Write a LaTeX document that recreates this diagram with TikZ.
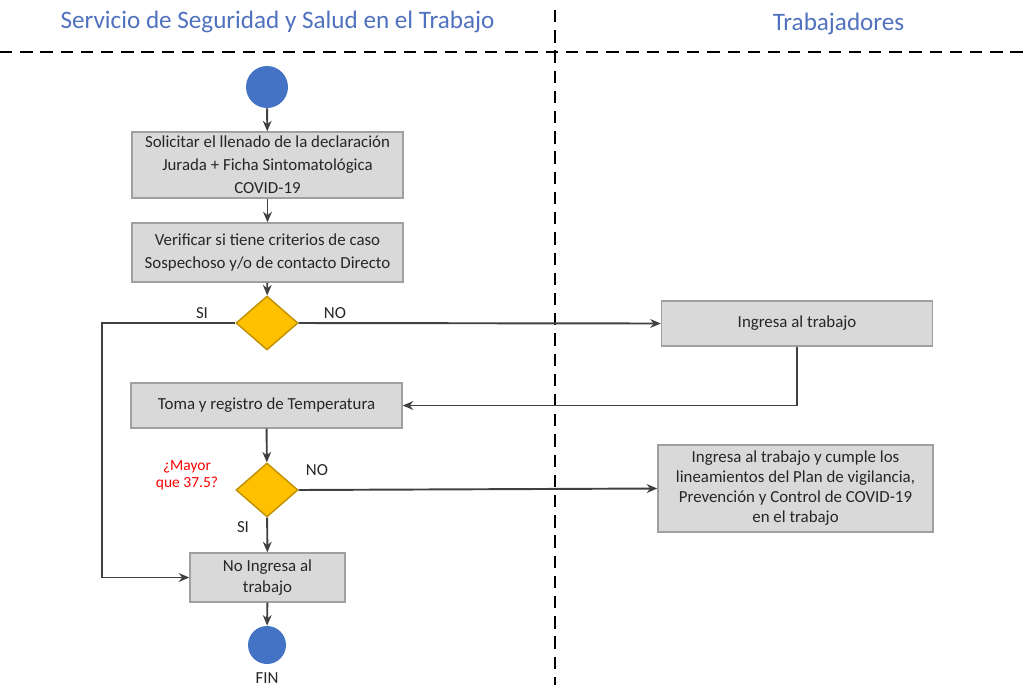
\documentclass[tikz,border=0pt]{standalone}
\usepackage{fontspec}
\setmainfont{Carlito}
\usepackage{tikz}
\usetikzlibrary{shapes.geometric}
\usetikzlibrary{positioning}
\usetikzlibrary{arrows.meta}
\usepackage{xcolor}
\definecolor{boxgray}{RGB}{217,217,217}
\definecolor{boxline}{RGB}{160,160,160}
\definecolor{circblue}{RGB}{68,114,196}
\definecolor{diagold}{RGB}{255,192,0}
\definecolor{diaedge}{RGB}{191,144,0}
\definecolor{titleblue}{RGB}{79,113,190}
\definecolor{linegray}{RGB}{64,64,64}
\definecolor{labeltext}{RGB}{38,38,38}

\begin{document}
\begin{tikzpicture}[
    procbox/.style={draw=boxline, fill=boxgray, rectangle, align=center, text=labeltext, font=\fontsize{9.6}{13}\selectfont, inner sep=2pt, line width=0.8pt},
    decision/.style={draw=diaedge, fill=diagold, diamond, minimum width=1.24cm, minimum height=1.08cm, inner sep=0pt, line width=0.8pt},
    terminal/.style={fill=circblue, circle, inner sep=0pt},
    flow/.style={-{Stealth[length=6pt,width=5pt]}, draw=linegray, line width=1.1pt},
    answer/.style={text=labeltext, font=\fontsize{9.6}{11}\selectfont},
    lanetitle/.style={font=\fontsize{14.3}{16}\selectfont, text=titleblue},
    lane/.style={line width=1.6pt, dash pattern=on 7pt off 4.5pt}
  ]
            \useasboundingbox (0,0) rectangle (20.6,-13.7);

            % lanes
            \node[lanetitle] (lanesst) at (5.55,-0.44) {Servicio de Seguridad y Salud en el Trabajo};
            \node[lanetitle] (lanetrab) at (16.77,-0.48) {Trabajadores};
            \draw[lane] (0,-1.04) -- (20.6,-1.04);
            \draw[lane] (11.1,-0.2) -- (11.1,-13.7);

            \node[terminal, minimum size=0.84cm] (start) at (5.34,-1.74) {};
            \node[procbox, minimum width=5.42cm, minimum height=1.32cm] (solicitar) at (5.35,-3.30) {Solicitar el llenado de la declaración\\Jurada + Ficha Sintomatológica\\COVID-19};
            \node[procbox, minimum width=5.42cm, minimum height=1.18cm] (verificar) at (5.35,-5.05) {Verificar si tiene criterios de caso\\Sospechoso y/o de contacto Directo};
            \node[decision] (dec1) at (5.34,-6.46) {};
            \node[procbox, minimum width=5.42cm, minimum height=0.9cm] (ingresa) at (15.94,-6.47) {Ingresa al trabajo};
            \node[procbox, minimum width=5.42cm, minimum height=0.9cm] (temp) at (5.33,-8.11) {Toma y registro de Temperatura};
            \node[decision] (dec2) at (5.34,-9.80) {};
            \node[procbox, minimum width=5.5cm, minimum height=1.74cm, font=\fontsize{9.6}{11.4}\selectfont] (cumple) at (15.91,-9.77) {Ingresa al trabajo y cumple los\\lineamientos del Plan de vigilancia,\\Prevención y Control de COVID-19\\en el trabajo};
            \node[procbox, minimum width=3.1cm, minimum height=0.98cm, font=\fontsize{9.6}{12}\selectfont] (noing) at (5.35,-11.55) {No Ingresa al\\trabajo};
            \node[terminal, minimum size=0.76cm] (fin) at (5.34,-12.90) {};
            \node[answer] (finlabel) at (5.34,-13.56) {FIN};

            % answers
            \node[answer] (si1) at (4.04,-6.26) {SI};
            \node[answer] (no1) at (6.70,-6.26) {NO};
            \node[answer] (si2) at (4.86,-10.54) {SI};
            \node[answer] (no2) at (6.34,-9.40) {NO};
            \node[answer, text=red, align=center, font=\fontsize{8.8}{9.8}\selectfont] (mayor) at (3.74,-9.50) {¿Mayor\\que 37.5?};

            \coordinate (leftroute) at (2.04,-6.46);

            \draw[flow] (start) -- (solicitar);
            \draw[flow] (solicitar) -- (verificar);
            \draw[flow] (verificar) -- (dec1);
            \draw[flow] (dec1.east) -- (ingresa.west);
            \draw[flow] (dec1.west) -- (leftroute) |- (noing.west);
            \draw[flow] (ingresa.south) |- (temp.east);
            \draw[flow] (temp) -- (dec2);
            \draw[flow] (dec2.east) -- (cumple.west);
            \draw[flow] (dec2) -- (noing);
            \draw[flow] (noing) -- (fin);
        \end{tikzpicture}
\end{document}
